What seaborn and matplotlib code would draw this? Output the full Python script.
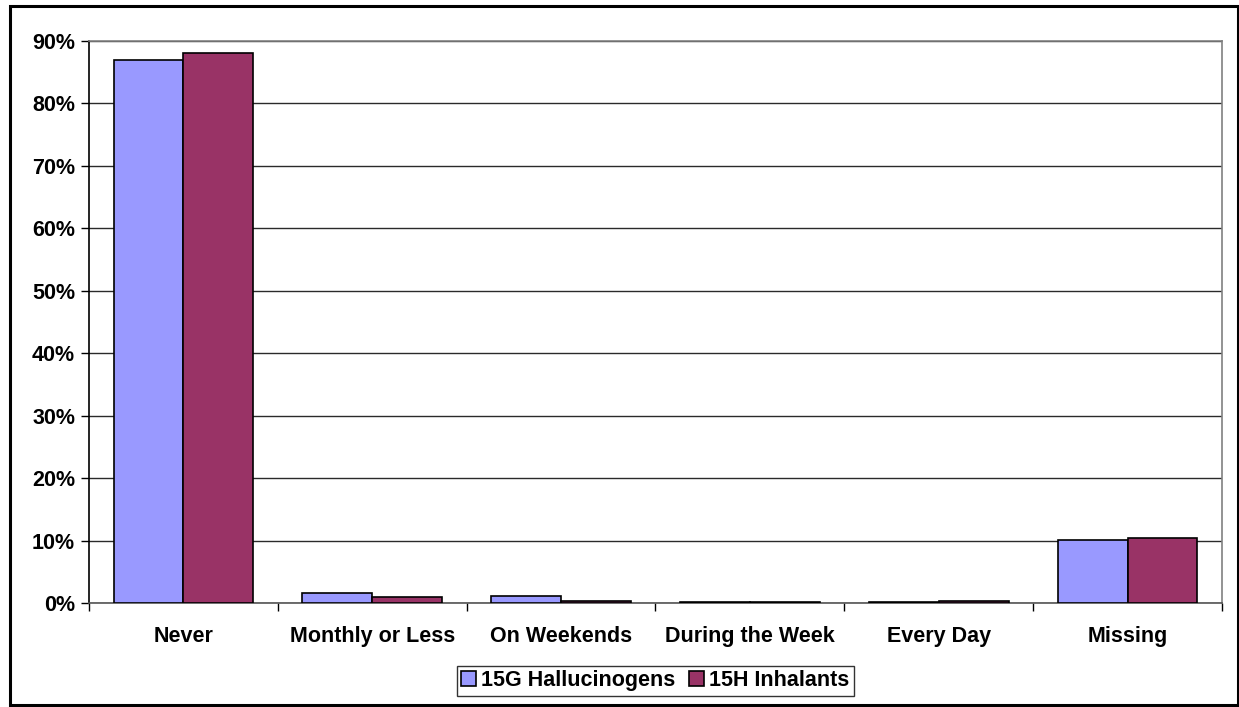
import matplotlib
matplotlib.use("Agg")
import matplotlib.pyplot as plt
from matplotlib.patches import Rectangle
from matplotlib.ticker import FuncFormatter, MultipleLocator
import pandas as pd
import seaborn as sns

categories = ["Never", "Monthly or Less", "On Weekends", "During the Week", "Every Day", "Missing"]
hallucinogens = [86.9, 1.6, 1.2, 0.1, 0.1, 10.1]
inhalants = [88.0, 0.9, 0.3, 0.1, 0.4, 10.4]
series_names = ["15G Hallucinogens", "15H Inhalants"]
palette = ["#9999FF", "#993366"]

df = pd.DataFrame({
    "category": categories * 2,
    "series": [series_names[0]] * len(categories) + [series_names[1]] * len(categories),
    "value": hallucinogens + inhalants,
})

sns.set_theme(style="white")
plt.rcParams["font.family"] = ["Liberation Sans", "DejaVu Sans"]
plt.rcParams["font.weight"] = "bold"
plt.rcParams["text.color"] = "black"
plt.rcParams["xtick.labelcolor"] = "black"
plt.rcParams["ytick.labelcolor"] = "black"

FS = 15.5

fig = plt.figure(figsize=(12.39, 7.07), dpi=100)
ax = fig.add_axes([0.0718, 0.1471, 0.9145, 0.7949])

sns.barplot(data=df, x="category", y="value", hue="series", order=categories,
            hue_order=series_names, palette=palette, width=0.74, saturation=1,
            edgecolor="black", linewidth=1.2, ax=ax, zorder=3)

ax.set_ylim(0, 90)
ax.set_xlim(-0.5, len(categories) - 0.5)
ax.yaxis.set_major_locator(MultipleLocator(10))
ax.yaxis.set_major_formatter(FuncFormatter(lambda v, p: f"{v:.0f}%"))
ax.grid(axis="y", color="#2a2a2a", linewidth=1, zorder=0)
ax.set_axisbelow(True)
ax.set_xlabel("")
ax.set_ylabel("")

ax.spines["top"].set_color("#808080")
ax.spines["right"].set_color("#808080")
ax.spines["left"].set_color("black")
ax.spines["bottom"].set_color("#555555")
for s in ax.spines.values():
    s.set_linewidth(1.2)
ax.spines["top"].set_zorder(5)

# category separators as downward ticks on the x axis
ax.set_xticks([i + 0.5 for i in range(-1, len(categories))], minor=True)
ax.tick_params(axis="x", which="minor", length=6, width=1, color="black", direction="out", bottom=True)
ax.tick_params(axis="x", which="major", length=0, pad=24, labelsize=FS, labelcolor="black")
ax.tick_params(axis="y", which="major", length=6, width=1, color="black", direction="out", left=True,
               labelsize=FS, pad=4, labelcolor="black")
for lbl in ax.get_xticklabels() + ax.get_yticklabels():
    lbl.set_fontweight("bold")
for lbl in ax.get_xticklabels():
    lbl.set_verticalalignment("center")

leg = ax.legend(loc="center", bbox_to_anchor=(0.5287, 0.037), bbox_transform=fig.transFigure,
                ncol=2, frameon=True, fancybox=False, edgecolor="black", fontsize=FS,
                handlelength=0.7, handleheight=0.7, handletextpad=0.25, columnspacing=0.6,
                borderpad=0.2, borderaxespad=0)
leg.get_frame().set_linewidth(1)
for t in leg.get_texts():
    t.set_fontweight("bold")
    t.set_color("black")

fig.patches.append(Rectangle((0.008, 0.003), 0.991, 0.9885, transform=fig.transFigure,
                             fill=False, edgecolor="black", linewidth=2.2))

fig.savefig("out.png", dpi=100)
